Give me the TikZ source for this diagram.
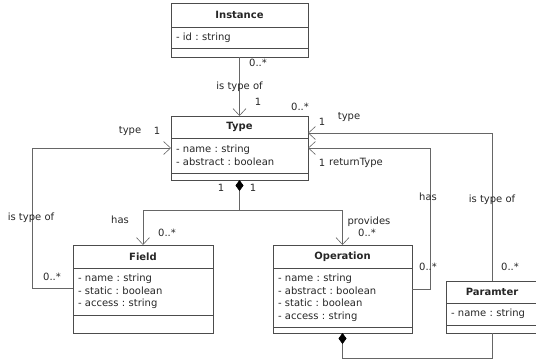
\documentclass[tikz,border=0pt]{standalone}
\usepackage{fontspec}
\setmainfont{DejaVu Sans}
\usetikzlibrary{positioning,arrows.meta}
\frenchspacing

\tikzset{
  every node/.style={font=\fontsize{10}{12.5}\selectfont, text=black!85},
  classname/.style={draw=black!70, line width=0.7pt, inner sep=0pt, outer sep=0pt, font=\fontsize{10}{12.5}\selectfont\bfseries},
  classattr/.style={draw=black!70, line width=0.7pt, align=left, inner xsep=5pt, inner ysep=0pt, outer sep=0pt},
  classfoot/.style={draw=black!70, line width=0.7pt, inner sep=0pt, outer sep=0pt},
  assoc/.style={draw=black!60, line width=0.6pt, -{Straight Barb[length=7pt,width=13pt]}},
  comp/.style={draw=black!60, line width=0.6pt, {Diamond[length=11pt,width=8pt,color=black]}-},
  lbl/.style={inner sep=0pt},
}

\begin{document}
\begin{tikzpicture}[x=1pt,y=-1pt]
\useasboundingbox (0,0) rectangle (536,360);

% classes
\node[classname, minimum width=137pt, minimum height=24pt, anchor=north] (instance) at (239.5,3) {Instance};
\node[classattr, text width=127pt, minimum height=21pt, below=0pt of instance] (instance-a) {- id : string};
\node[classfoot, minimum width=137pt, minimum height=9pt, below=0pt of instance-a] (instance-f) {};

\node[classname, minimum width=137pt, minimum height=22pt, anchor=north] (type) at (239.5,116) {Type};
\node[classattr, text width=127pt, minimum height=35pt, below=0pt of type] (type-a) {- name : string\\- abstract : boolean};
\node[classfoot, minimum width=137pt, minimum height=7pt, below=0pt of type-a] (type-f) {};

\node[classname, minimum width=140pt, minimum height=23pt, anchor=north] (field) at (143,245) {Field};
\node[classattr, text width=130pt, minimum height=47pt, below=0pt of field] (field-a) {- name : string\\- static : boolean\\- access : string};
\node[classfoot, minimum width=140pt, minimum height=18pt, below=0pt of field-a] (field-f) {};

\node[classname, minimum width=139pt, minimum height=23pt, anchor=north] (operation) at (342.5,245) {Operation};
\node[classattr, text width=129pt, minimum height=59pt, below=0pt of operation] (operation-a) {- name : string\\- abstract : boolean\\- static : boolean\\- access : string};
\node[classfoot, minimum width=139pt, minimum height=6pt, below=0pt of operation-a] (operation-f) {};

\node[classname, minimum width=92pt, minimum height=22pt, anchor=north] (paramter) at (492,281) {Paramter};
\node[classattr, text width=82pt, minimum height=22pt, below=0pt of paramter] (paramter-a) {- name : string};
\node[classfoot, minimum width=92pt, minimum height=8pt, below=0pt of paramter-a] (paramter-f) {};

% connectors
\draw[assoc] (instance-f.south) -- (type.north);
\draw[comp] (type-f.south) -- ++(0,30) coordinate (fork);
\draw[assoc] (fork) -| (field.north);
\draw[assoc] (fork) -| (operation.north);
\draw[assoc] ([yshift=3.5pt]field-a.west) -- ++(-41,0) |- ([yshift=7.5pt]type-a.west);
\draw[assoc] ([yshift=8.5pt]operation-a.east) -- ++(18,0) |- ([yshift=7.5pt]type-a.east);
\draw[assoc] (paramter.north) |- ([yshift=-6pt]type.east);
\draw[comp] (operation-f.south) -- ++(0,25) -| (paramter-f.south);

% labels
\node[lbl] (inst-m) at (258,63) {0..*};
\node[lbl] (inst-r) at (239.5,87) {is type of};
\node[lbl] (inst-t) at (258,102) {1};
\node[lbl] (par-m2) at (300,107) {0..*};
\node[lbl] (par-r2) at (349,117) {type};
\node[lbl] (par-t) at (322,122) {1};
\node[lbl] (ret-t) at (322,163) {1};
\node[lbl] (ret-r) at (356,163) {returnType};
\node[lbl] (fld-r2) at (130,131) {type};
\node[lbl] (fld-t) at (157,131) {1};
\node[lbl] (fork-l) at (221,188) {1};
\node[lbl] (fork-r) at (253,188) {1};
\node[lbl] (has-r) at (120,220) {has};
\node[lbl] (has-m) at (167,233) {0..*};
\node[lbl] (prov-r) at (369,222) {provides};
\node[lbl] (prov-m) at (367,233) {0..*};
\node[lbl] (fld-r) at (31,218) {is type of};
\node[lbl] (fld-m) at (52,277) {0..*};
\node[lbl] (ret-h) at (428,197) {has};
\node[lbl] (ret-m) at (428,267) {0..*};
\node[lbl] (par-r) at (492,200) {is type of};
\node[lbl] (par-m) at (510,267) {0..*};
\end{tikzpicture}
\end{document}
